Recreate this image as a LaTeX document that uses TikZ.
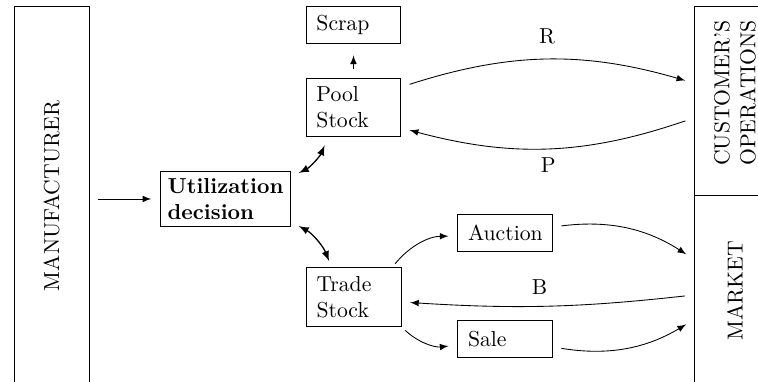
\documentclass[tikz,border=0pt]{standalone}
\usepackage{graphicx}
\begin{document}
\begin{tikzpicture}[
    stockbox/.style={draw, text width=1.2cm, inner xsep=4.8pt, inner ysep=4pt, minimum height=0.6cm, align=left},
    decisionbox/.style={draw, align=left, font=\bfseries},
    sidebox/.style={draw, minimum width=1.329cm},
    flow/.style={-latex, shorten <=4pt, shorten >=4pt},
    twoway/.style={latex-latex, semithick, shorten <=4pt, shorten >=4pt}]
    \useasboundingbox (0,0) rectangle (12.285,6.191);
    \clip (0,0) rectangle (12.285,6.191);
    % outer columns
    \node[sidebox, minimum width=1.216cm, minimum height=6.159cm] (manuf) at (0.835,3.015) {\rotatebox{90}{MANUFACTURER}};
    \node[sidebox, minimum height=3.063cm] (cust) at (11.912,4.562) {};
    \node[rotate=90, align=center] (custtext) at ([yshift=0.12cm]cust.center) {CUSTOMER'S\\OPERATIONS};
    \node[sidebox, minimum height=3.096cm] (market) at (11.912,1.483) {\rotatebox{90}{MARKET}};
    % middle boxes
    \node[decisionbox] (util) at (3.655,2.966) {Utilization\\decision};
    \node[stockbox] (scrap) at (5.729,5.794) {Scrap};
    \node[stockbox] (pool) at (5.729,4.449) {Pool\\Stock};
    \node[stockbox] (trade) at (5.73,1.378) {Trade\\Stock};
    \node[stockbox] (auction) at (8.185,2.415) {Auction};
    \node[stockbox] (sale) at (8.185,0.697) {Sale};
    % arrows
    \draw[flow] (manuf.east |- util.west) -- (util.west);
    \draw[flow, shorten >=5.5pt] (pool.north) -- (scrap.south);
    \draw[twoway] ([yshift=0.357cm]util.east) to[bend right=20] ([xshift=-0.413cm]pool.south);
    \draw[twoway, shorten >=3pt] ([yshift=-0.373cm]util.east) to[bend left=20] ([xshift=-0.357cm]trade.north);
    \draw[flow] ([yshift=0.332cm]pool.east) to[bend left=17] node[above=4pt] {R} ([yshift=0.284cm]cust.west);
    \draw[flow] ([yshift=-0.284cm]cust.west) to[bend left=17] node[below=1pt] {P} ([yshift=-0.332cm]pool.east);
    \draw[flow, shorten <=2pt] ([xshift=-0.146cm]trade.north east) to[bend left=25] ([yshift=-0.05cm]auction.west);
    \draw[flow, shorten <=2.4pt] (trade.south east) to[bend right=25] ([yshift=-0.097cm]sale.west);
    \draw[flow] ([yshift=0.097cm]auction.east) to[bend left=20] ([yshift=0.51cm]market.west);
    \draw[flow] ([yshift=-0.13cm]sale.east) to[bend right=20] ([yshift=-0.478cm]market.west);
    \draw[flow] ([yshift=-0.073cm]market.west) to[bend left=5] node[above=2pt, pos=0.53] {B} ([yshift=-0.081cm]trade.east);
\end{tikzpicture}
\end{document}
